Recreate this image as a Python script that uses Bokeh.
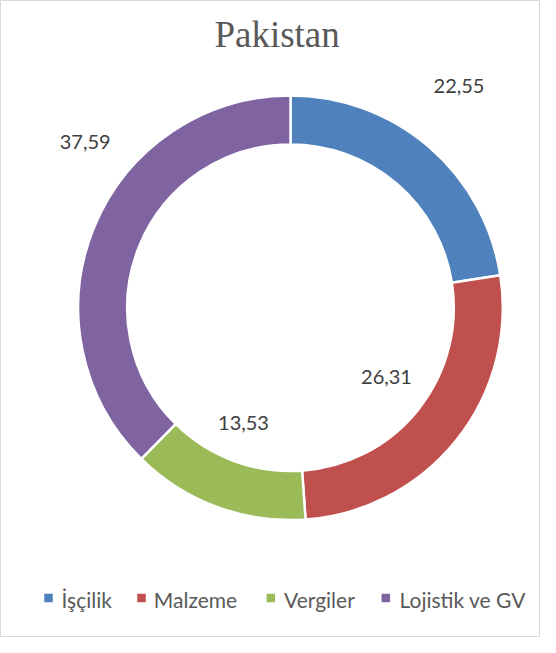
import numpy as np
from bokeh.plotting import figure
from bokeh.models import ColumnDataSource, Range1d
from bokeh.core.properties import value
from bokeh.embed import file_html
from bokeh.resources import INLINE

# ---- data ----
title_text = "Pakistan"
categories = ["İşçilik", "Malzeme", "Vergiler", "Lojistik ve GV"]
values = [22.55, 26.31, 13.53, 37.59]
colors = ["#4F81BD", "#C0504D", "#9BBB59", "#8064A2"]
value_labels = ["22,55", "26,31", "13,53", "37,59"]

# ---- layout (screen-pixel data space) ----
W, H = 540, 637
cx, cy = 290, 329.7
r_out, r_in = 212.3, 163.3
# label anchor points (x center, baseline)
label_x = [458.5, 386, 243, 84.7]
label_y = [552, 261, 215, 496]
# legend layout
leg_sq_x = [48, 141, 270.3, 385.3]
leg_txt_x = [61, 153.3, 283.5, 399]
leg_sq_y = 39.5
leg_txt_y = 38.5

p = figure(width=W, height=H, output_backend="svg", toolbar_location=None,
           x_range=Range1d(0, W), y_range=Range1d(0, H), min_border=0)
p.axis.visible = False
p.grid.visible = False
p.outline_line_color = "#D9D9D9"
p.outline_line_width = 1
p.background_fill_color = "white"
p.border_fill_color = "white"

vals = np.array(values)
total = vals.sum()
cum = np.concatenate([[0], np.cumsum(vals)])
start = np.pi / 2 - 2 * np.pi * cum[:-1] / total
end = np.pi / 2 - 2 * np.pi * cum[1:] / total

src = ColumnDataSource(dict(x=[cx] * len(vals), y=[cy] * len(vals),
                            start=start, end=end, color=colors))
p.annular_wedge(x="x", y="y", inner_radius=r_in, outer_radius=r_out,
                start_angle="start", end_angle="end", direction="clock",
                fill_color="color", line_color="white", line_width=2.5,
                source=src)

# value labels
p.text(x=label_x, y=label_y, text=value_labels, text_font=value("Lato"),
       text_font_size="20px", text_color="#404040", text_align="center",
       text_baseline="alphabetic")

# title
p.text(x=[276.6], y=[603], text=[title_text], text_font=value("Liberation Serif"),
       text_font_size="37px", text_color="#595959", text_align="center",
       text_baseline="alphabetic")

# legend
p.scatter(x=leg_sq_x, y=[leg_sq_y] * 4, marker="square", size=8.5,
          fill_color=colors, line_color=None)
p.text(x=leg_txt_x, y=[leg_txt_y] * 4, text=categories, text_font=value("Lato"),
       text_font_size="21px", text_color="#595959", text_align="left",
       text_baseline="alphabetic")

open("out.html", "w").write(file_html(p, INLINE))
